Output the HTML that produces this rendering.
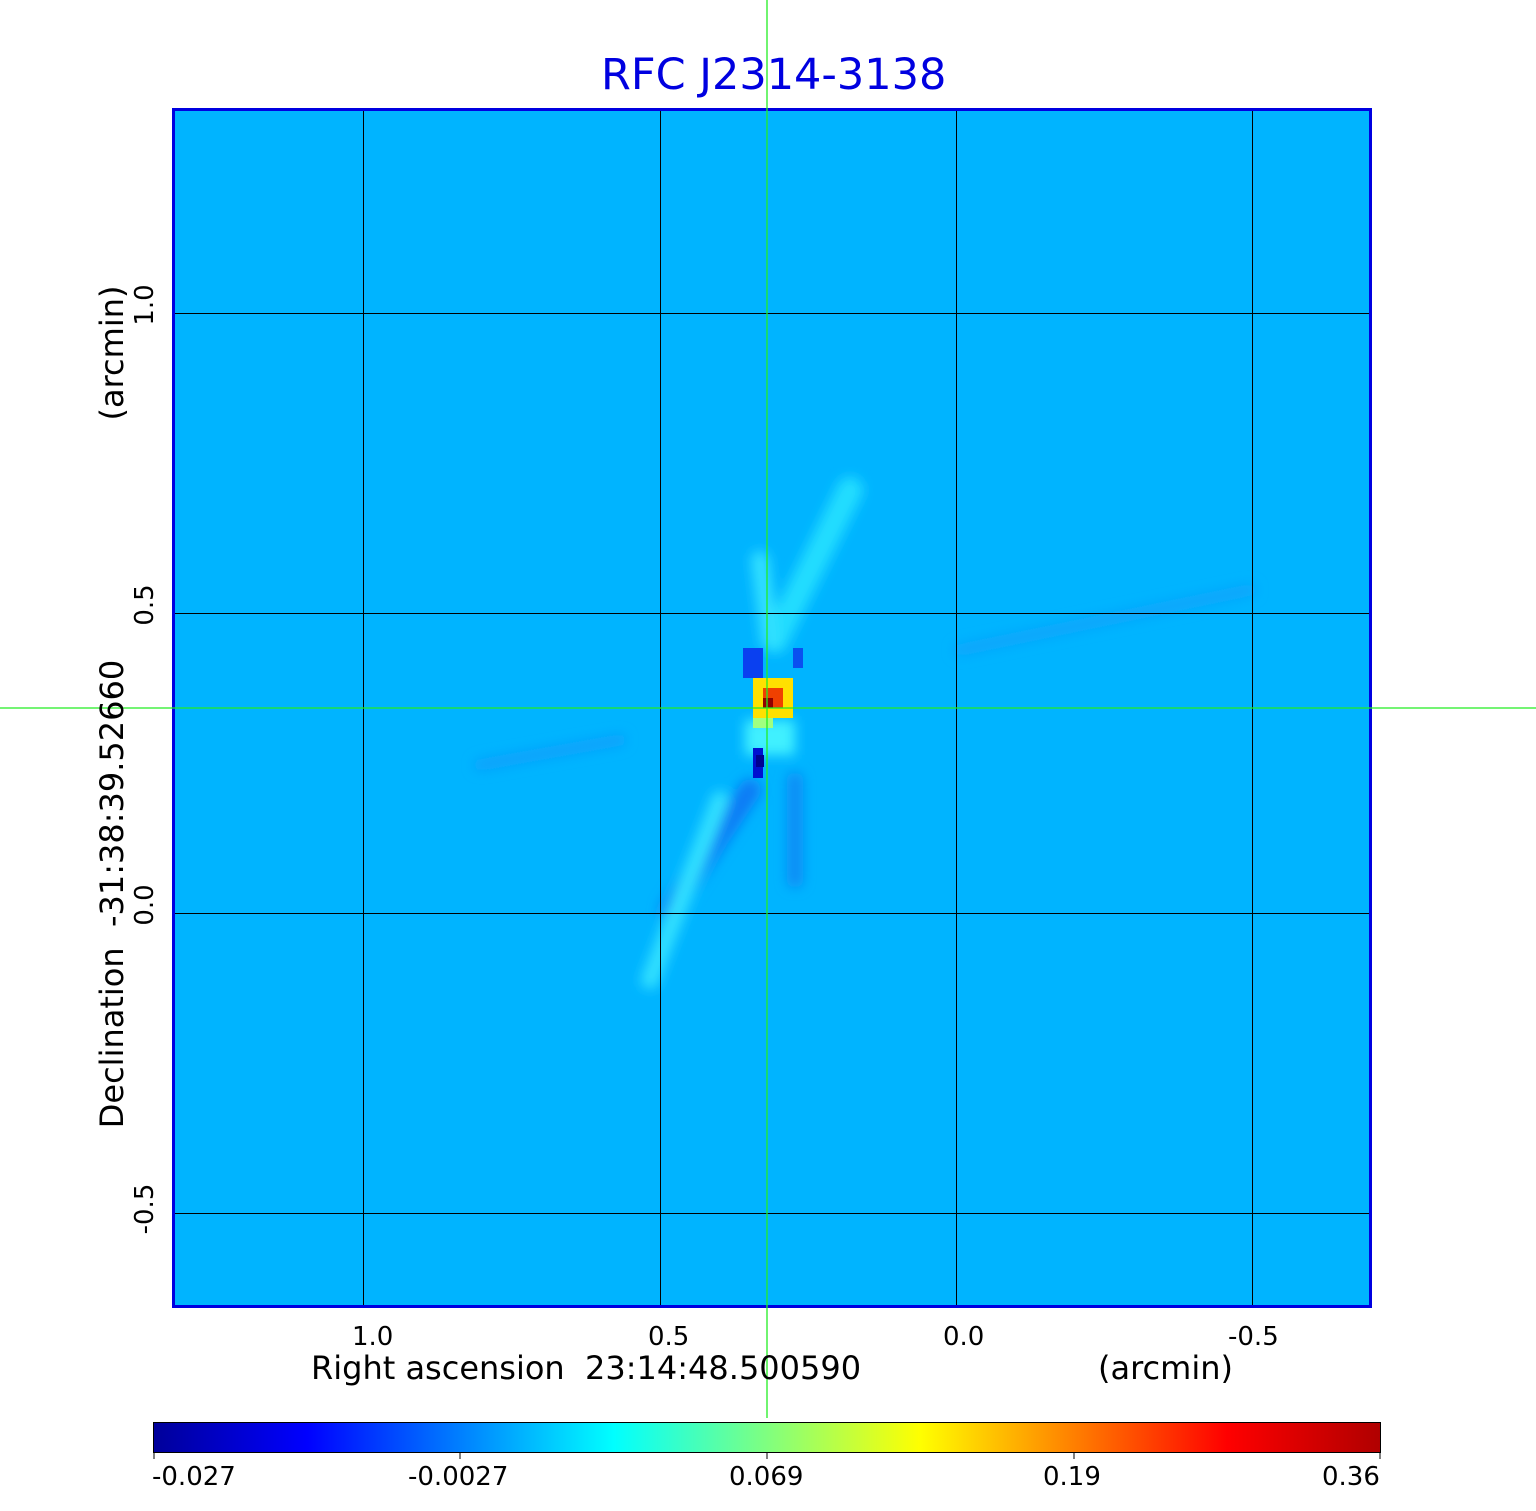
<!DOCTYPE html>
<html><head><meta charset="utf-8"><style>
html,body{margin:0;padding:0;background:#fff;}
body{width:1536px;height:1511px;position:relative;overflow:hidden;font-family:"DejaVu Sans","Liberation Sans",sans-serif;}
.t{position:absolute;white-space:nowrap;color:#000;}
</style></head><body>
<svg width="1536" height="1511" style="position:absolute;left:0;top:0">
<defs>
<filter id="b"><feGaussianBlur stdDeviation="6"/></filter>
<linearGradient id="jet" x1="0" x2="1" y1="0" y2="0">
<stop offset="0" stop-color="#00009a"/>
<stop offset="0.125" stop-color="#0000ff"/>
<stop offset="0.375" stop-color="#00ffff"/>
<stop offset="0.625" stop-color="#ffff00"/>
<stop offset="0.875" stop-color="#ff0000"/>
<stop offset="1" stop-color="#b00000"/>
</linearGradient>
</defs>
<rect x="172" y="108" width="1200" height="1200" fill="#00b4ff"/>
<g filter="url(#b)" stroke-linecap="round">
<line x1="775" y1="640" x2="850" y2="490" stroke="#20ddff" stroke-width="26"/>
<line x1="750" y1="790" x2="670" y2="910" stroke="#0a7cf5" stroke-width="22"/>
<line x1="795" y1="780" x2="795" y2="880" stroke="#0a8cf5" stroke-width="16"/>
<line x1="720" y1="800" x2="650" y2="980" stroke="#30e0ff" stroke-width="18"/>
<line x1="760" y1="560" x2="770" y2="640" stroke="#30e0ff" stroke-width="18"/>
<line x1="480" y1="765" x2="620" y2="740" stroke="#10a0fb" stroke-width="12"/>
<line x1="960" y1="650" x2="1250" y2="590" stroke="#10a4fb" stroke-width="12"/>
<rect x="745" y="720" width="50" height="35" fill="#40f0ff"/>
</g>
<rect x="743" y="648" width="20" height="30" fill="#0a40f0"/>
<rect x="793" y="648" width="10" height="20" fill="#0a50f0"/>
<rect x="753" y="748" width="10" height="30" fill="#0010d0"/>
<rect x="756" y="755" width="8" height="12" fill="#000090"/>
<rect x="753" y="678" width="40" height="40" fill="#ffe000"/>
<rect x="763" y="688" width="20" height="20" fill="#f04000"/>
<rect x="763" y="698" width="10" height="10" fill="#900000"/>
<rect x="753" y="718" width="20" height="10" fill="#a0ff80"/>
<g stroke="#000" stroke-width="1">
<line x1="363.5" y1="108" x2="363.5" y2="1308"/><line x1="660.5" y1="108" x2="660.5" y2="1308"/>
<line x1="956.5" y1="108" x2="956.5" y2="1308"/><line x1="1252.5" y1="108" x2="1252.5" y2="1308"/>
<line x1="172" y1="313.5" x2="1372" y2="313.5"/><line x1="172" y1="613.5" x2="1372" y2="613.5"/>
<line x1="172" y1="913.5" x2="1372" y2="913.5"/><line x1="172" y1="1213.5" x2="1372" y2="1213.5"/>
</g>
<rect x="173.5" y="109.5" width="1197" height="1197" fill="none" stroke="#0000e0" stroke-width="3"/>
<rect x="153.5" y="1422.5" width="1227" height="30" fill="url(#jet)" stroke="#000" stroke-width="1"/>
<g stroke="#000"><line x1="154" y1="1453" x2="154" y2="1459"/><line x1="460" y1="1453" x2="460" y2="1459"/><line x1="767" y1="1453" x2="767" y2="1459"/><line x1="1074" y1="1453" x2="1074" y2="1459"/><line x1="1380" y1="1453" x2="1380" y2="1459"/></g>
<line x1="767" y1="0" x2="767" y2="1418" stroke="#22ee22" stroke-width="1.3"/>
<line x1="0" y1="708" x2="1536" y2="708" stroke="#22ee22" stroke-width="1.3"/>
</svg>
<div class="t" style="left:601px;top:50px;font-size:43px;color:#0000e0;">RFC J2314-3138</div>
<div class="t" style="left:352px;top:1322px;font-size:26px;">1.0</div>
<div class="t" style="left:648px;top:1322px;font-size:26px;">0.5</div>
<div class="t" style="left:943px;top:1322px;font-size:26px;">0.0</div>
<div class="t" style="left:1228px;top:1322px;font-size:26px;">-0.5</div>
<div class="t" style="left:311px;top:1349px;font-size:32px;">Right ascension&nbsp; 23:14:48.500590</div>
<div class="t" style="left:1098px;top:1349px;font-size:32px;">(arcmin)</div>
<div class="t" style="left:152px;top:1462px;font-size:26px;">-0.027</div>
<div class="t" style="left:408px;top:1462px;font-size:26px;">-0.0027</div>
<div class="t" style="left:729px;top:1462px;font-size:26px;">0.069</div>
<div class="t" style="left:1043px;top:1462px;font-size:26px;">0.19</div>
<div class="t" style="left:1322px;top:1462px;font-size:26px;">0.36</div>
<div class="t" style="left:145px;top:305px;font-size:26px;transform:translate(-50%,-50%) rotate(-90deg);">1.0</div>
<div class="t" style="left:145px;top:605px;font-size:26px;transform:translate(-50%,-50%) rotate(-90deg);">0.5</div>
<div class="t" style="left:145px;top:905px;font-size:26px;transform:translate(-50%,-50%) rotate(-90deg);">0.0</div>
<div class="t" style="left:145px;top:1209px;font-size:26px;transform:translate(-50%,-50%) rotate(-90deg);">-0.5</div>
<div class="t" style="left:112px;top:894px;font-size:32px;transform:translate(-50%,-50%) rotate(-90deg);">Declination&nbsp; -31:38:39.52660</div>
<div class="t" style="left:112px;top:353px;font-size:32px;transform:translate(-50%,-50%) rotate(-90deg);">(arcmin)</div>
</body></html>
